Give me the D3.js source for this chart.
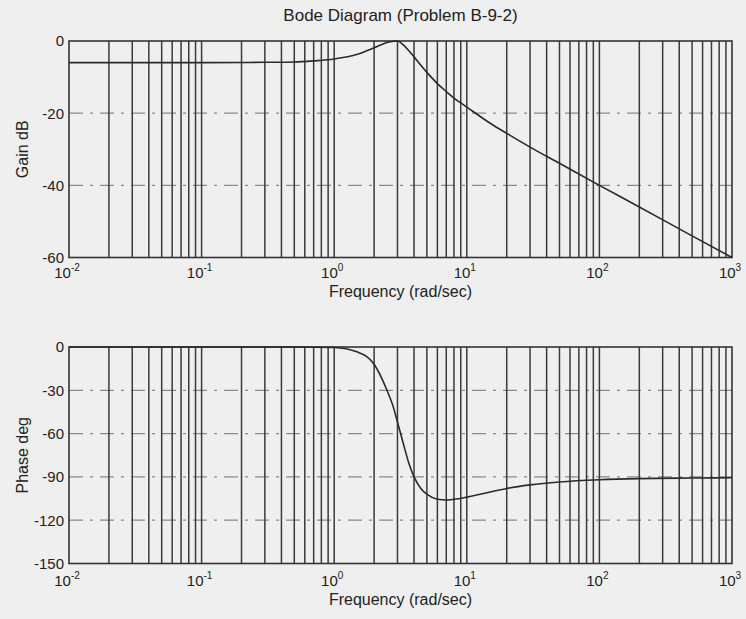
<!DOCTYPE html>
<html><head><meta charset="utf-8">
<script src="https://cdn.jsdelivr.net/npm/d3@7"></script>
<style>
body{margin:0;background:#efefef}
text{font-family:"Liberation Sans",Arial,sans-serif;fill:#222}
</style>
</head><body>
<svg id="c" width="746" height="619"></svg>
<script>
// ---- data ----
const titleText = "Bode Diagram (Problem B-9-2)";
const xLabelText = "Frequency (rad/sec)";
const gainLabelText = "Gain dB";
const phaseLabelText = "Phase deg";

const gainFreq = [0.01, 0.1, 0.3, 0.5, 0.7, 1, 1.5, 2, 2.5, 2.8, 3, 3.3, 3.7, 4, 5, 6, 7, 8, 10, 15, 20, 30, 50, 100, 200, 500, 1000];
const gainDb   = [-6.0, -6.0, -5.9, -5.8, -5.5, -5.0, -3.7, -1.9, -0.4, -0.05, 0, -1.0, -2.9, -4.4, -8.7, -11.8, -14.0, -15.8, -18.3, -22.8, -25.6, -29.4, -33.9, -40.0, -46.0, -54.0, -60.0];

const phaseFreq = [0.01, 0.1, 0.5, 1, 1.5, 2, 2.5, 2.8, 3, 3.3, 3.7, 4, 4.5, 5, 6, 7, 8, 10, 15, 20, 30, 50, 100, 200, 500, 1000];
const phaseDeg  = [0, 0, 0, -0.3, -3.5, -12, -30, -42, -52, -66, -82, -90, -98, -102, -105.5, -106, -105.5, -104, -100.5, -98, -95.5, -93.5, -92, -91.2, -90.8, -90.6];

const freqDomain = [0.01, 1000];
const gainTicks  = [0, -20, -40, -60];
const phaseTicks = [0, -30, -60, -90, -120, -150];
const decadeExps = [-2, -1, 0, 1, 2, 3];

// ---- layout ----
const svg = d3.select("#c");
const L = 69, R = 732;
const panels = [
  {top: 41, bottom: 257.5, dom: [-60, 0], ticks: gainTicks, fx: gainFreq, fy: gainDb, ylab: gainLabelText, xlabY: 297, tickY: 278},
  {top: 347, bottom: 563.5, dom: [-150, 0], ticks: phaseTicks, fx: phaseFreq, fy: phaseDeg, ylab: phaseLabelText, xlabY: 605, tickY: 586}
];

svg.append("text").attr("x", (L+R)/2).attr("y", 21).attr("text-anchor","middle")
  .attr("font-size", 17).text(titleText);

panels.forEach(p => {
  const x = d3.scaleLog().domain(freqDomain).range([L, R]);
  const y = d3.scaleLinear().domain(p.dom).range([p.bottom, p.top]);
  const g = svg.append("g");

  // horizontal dashed grid
  g.selectAll(".hg").data(p.ticks.filter(t => t > p.dom[0] && t < p.dom[1])).join("line")
    .attr("x1", L).attr("x2", R).attr("y1", d => y(d)).attr("y2", d => y(d))
    .attr("stroke", "#8a8a8a").attr("stroke-width", 1.2).attr("stroke-dasharray", "14,7,3,7");

  // vertical solid grid
  const vt = x.ticks().filter(v => v > freqDomain[0]*1.001 && v < freqDomain[1]*0.999);
  g.selectAll(".vg").data(vt).join("line")
    .attr("x1", d => x(d)).attr("x2", d => x(d)).attr("y1", p.top).attr("y2", p.bottom)
    .attr("stroke", "#3a3a3a").attr("stroke-width", 1.5);

  // box
  g.append("rect").attr("x", L).attr("y", p.top).attr("width", R-L).attr("height", p.bottom-p.top)
    .attr("fill", "none").attr("stroke", "#333").attr("stroke-width", 1.6);

  // curve
  const line = d3.line().x((d,i) => x(p.fx[i])).y(d => y(d)).curve(d3.curveMonotoneX);
  g.append("path").attr("d", line(p.fy)).attr("fill","none").attr("stroke","#2a2a2a").attr("stroke-width",1.6);

  // y tick labels
  g.selectAll(".yl").data(p.ticks).join("text")
    .attr("x", L-5).attr("y", d => y(d)).attr("dy", "0.36em").attr("text-anchor", "end")
    .attr("font-size", 15).text(d => d);

  // x tick labels
  decadeExps.forEach(e => {
    const t = g.append("text").attr("x", x(Math.pow(10, e)) - 2).attr("y", p.tickY)
      .attr("text-anchor", "middle").attr("font-size", 15);
    t.append("tspan").text("10");
    t.append("tspan").attr("dy", -7).attr("font-size", 10).text(e);
  });

  // axis labels
  g.append("text").attr("x", (L+R)/2).attr("y", p.xlabY).attr("text-anchor", "middle")
    .attr("font-size", 16).text(xLabelText);
  g.append("text").attr("transform", `translate(28,${(p.top+p.bottom)/2}) rotate(-90)`)
    .attr("text-anchor", "middle").attr("font-size", 16).text(p.ylab);
});
</script>
</body></html>
